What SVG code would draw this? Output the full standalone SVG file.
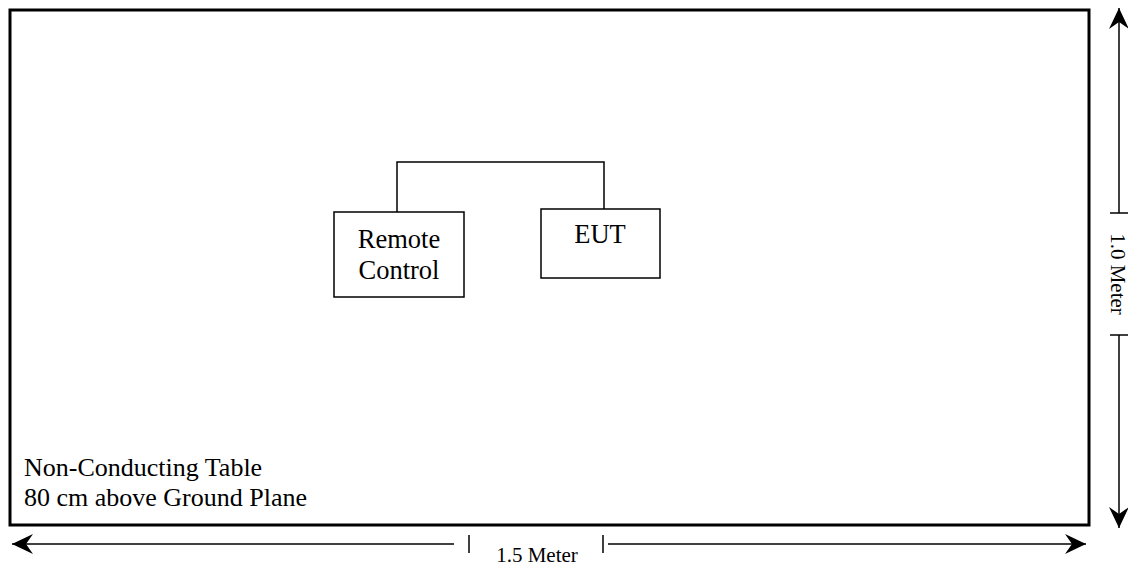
<svg xmlns="http://www.w3.org/2000/svg" width="1128" height="565" viewBox="0 0 1128 565">
<style>
.t{font-family:"Liberation Serif","Times New Roman",serif;fill:#000}
.big{font-size:26.5px}
.lab{font-size:26px}
.sm{font-size:21px}
.box{fill:#fff;stroke:#000;stroke-width:1.5}
.ln{fill:none;stroke:#000;stroke-width:1.5}
</style>
<defs>
<marker id="ah" viewBox="0 0 22 22" refX="21" refY="11" markerWidth="22" markerHeight="22" markerUnits="userSpaceOnUse" orient="auto-start-reverse">
<path d="M21,11 L0,1 L7,11 L0,21 Z" fill="#000"/>
</marker>
</defs>
<rect id="table" x="10" y="10" width="1079" height="515" fill="#fff" stroke="#000" stroke-width="3"/>
<g id="connectors">
<polyline class="ln" points="397,212 397,162 604,162 604,209"/>
</g>
<g id="remote">
<rect class="box" x="334" y="212" width="130" height="85"/>
<text class="t big" x="399" y="248" text-anchor="middle">Remote</text>
<text class="t big" x="399" y="279" text-anchor="middle">Control</text>
</g>
<g id="eut">
<rect class="box" x="541" y="209" width="119" height="69"/>
<text class="t big" x="600" y="243" text-anchor="middle">EUT</text>
</g>
<g id="label">
<text class="t lab" x="24" y="476">Non-Conducting Table</text>
<text class="t lab" x="24" y="505.5">80 cm above Ground Plane</text>
</g>
<g id="dim-h">
<line class="ln" x1="454" y1="544" x2="12" y2="544" marker-end="url(#ah)"/>
<line class="ln" x1="469" y1="535" x2="469" y2="553"/>
<line class="ln" x1="603" y1="535" x2="603" y2="553"/>
<line class="ln" x1="608" y1="544" x2="1086" y2="544" marker-end="url(#ah)"/>
<text class="t sm" x="537" y="562" text-anchor="middle">1.5 Meter</text>
</g>
<g id="dim-v">
<line class="ln" x1="1119" y1="213" x2="1119" y2="8" marker-end="url(#ah)"/>
<line class="ln" x1="1110" y1="213" x2="1128" y2="213"/>
<line class="ln" x1="1110" y1="335" x2="1128" y2="335"/>
<line class="ln" x1="1119" y1="335" x2="1119" y2="528" marker-end="url(#ah)"/>
<text class="t sm" transform="translate(1111,274) rotate(90)" text-anchor="middle">1.0 Meter</text>
</g>
</svg>
